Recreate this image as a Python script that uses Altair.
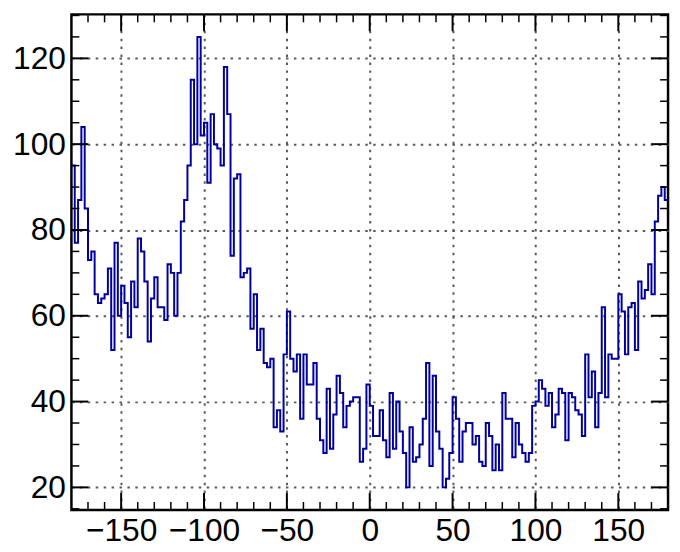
import altair as alt
import pandas as pd

# histogram: 2-degree bins from -180 to 180
bin_width = 2
bin_left = list(range(-180, 180, bin_width))
counts = [95, 77, 87, 104, 85, 73, 75, 65, 63, 64,
          65, 71, 52, 77, 60, 67, 63, 55, 68, 62,
          78, 75, 68, 54, 64, 69, 62, 62, 59, 72,
          70, 60, 70, 82, 87, 95, 115, 100, 125, 102,
          105, 91, 107, 100, 99, 95, 118, 107, 74, 92,
          93, 69, 70, 71, 57, 65, 52, 57, 49, 48,
          50, 34, 38, 33, 51, 61, 50, 47, 51, 36,
          51, 44, 44, 49, 36, 31, 28, 43, 29, 37,
          46, 42, 34, 39, 40, 41, 41, 26, 29, 44,
          39, 32, 32, 38, 31, 27, 42, 29, 40, 33,
          28, 20, 34, 26, 27, 30, 36, 49, 25, 46,
          33, 29, 20, 22, 28, 41, 36, 26, 33, 35,
          35, 30, 32, 26, 25, 35, 32, 24, 30, 24,
          42, 36, 36, 27, 35, 30, 28, 26, 28, 39,
          40, 45, 43, 39, 42, 34, 37, 43, 42, 31,
          42, 41, 38, 37, 32, 51, 41, 47, 34, 42,
          62, 41, 51, 50, 50, 65, 61, 51, 62, 63,
          52, 68, 64, 66, 72, 65, 82, 88, 90, 87]

x_major = [-150, -100, -50, 0, 50, 100, 150]
x_minor = [v for v in range(-170, 180, 10) if v not in x_major]
y_major = [20, 40, 60, 80, 100, 120]
y_minor = [v for v in range(15, 131, 5) if v not in y_major]

x_domain = [-180, 180]
y_domain = [14.75, 130.25]

W, H = 602, 500
LINE_COLOR = "#0000a0"
FONT = "Liberation Sans"
FS = 32

edges = bin_left + [bin_left[-1] + bin_width]
vals = counts + [counts[-1]]
df = pd.DataFrame({"x": edges, "y": vals})

xs = alt.Scale(domain=x_domain, nice=False, zero=False)
ys = alt.Scale(domain=y_domain, nice=False, zero=False)

grid_kw = dict(grid=True, gridDash=[2.5, 5.5], gridColor="#5a5a5a", gridWidth=2,
               ticks=False, domain=False, labelFontSize=FS, labelFont=FONT,
               labelColor="black", title=None, format="d", labelFlush=False)
xaxis = alt.Axis(values=x_major, labelPadding=6, **grid_kw)
yaxis = alt.Axis(values=y_major, labelPadding=6, **grid_kw)

line = alt.Chart(df).mark_line(interpolate="step-after", color=LINE_COLOR,
                               strokeWidth=2, clip=True).encode(
    x=alt.X("x:Q", scale=xs, axis=xaxis),
    y=alt.Y("y:Q", scale=ys, axis=yaxis),
)

xmaj = pd.DataFrame({"v": x_major})
xmin = pd.DataFrame({"v": x_minor})
ymaj = pd.DataFrame({"v": y_major})
ymin = pd.DataFrame({"v": y_minor})

def xticks(d, length, width):
    bot = alt.Chart(d).mark_rule(color="black", strokeWidth=width).encode(
        x=alt.X("v:Q", scale=xs), y=alt.value(H), y2=alt.value(H - length))
    top = alt.Chart(d).mark_rule(color="black", strokeWidth=width).encode(
        x=alt.X("v:Q", scale=xs), y=alt.value(0), y2=alt.value(length))
    return [bot, top]

def yticks(d, length, width):
    left = alt.Chart(d).mark_rule(color="black", strokeWidth=width).encode(
        y=alt.Y("v:Q", scale=ys), x=alt.value(0), x2=alt.value(length))
    right = alt.Chart(d).mark_rule(color="black", strokeWidth=width).encode(
        y=alt.Y("v:Q", scale=ys), x=alt.value(W), x2=alt.value(W - length))
    return [left, right]

layers = [line]
layers += xticks(xmaj, 17, 2) + xticks(xmin, 8, 1.5)
layers += yticks(ymaj, 17, 2) + yticks(ymin, 8, 1.5)

chart = alt.layer(*layers).properties(
    width=W, height=H,
    autosize=alt.AutoSizeParams(type="none"),
    padding={"left": 64, "top": 4, "right": 4, "bottom": 36},
).configure_view(stroke="black", strokeWidth=2.5)

chart.save("out.html", embed_options={"renderer": "svg", "actions": False})
